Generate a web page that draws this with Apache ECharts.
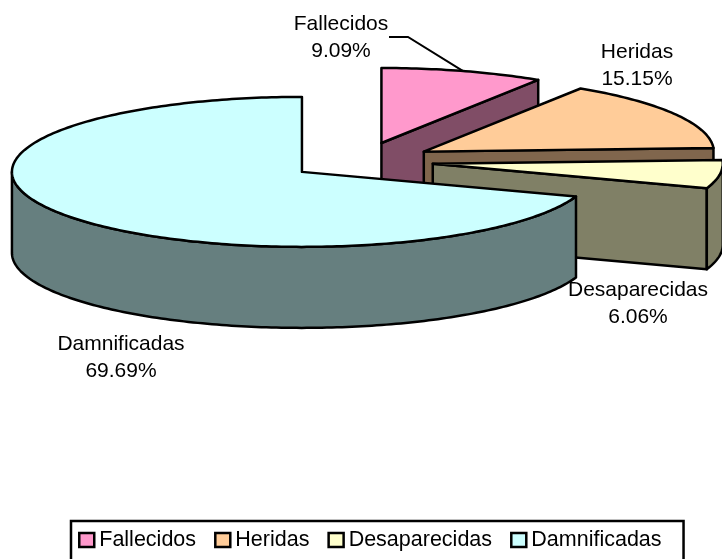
<!DOCTYPE html>
<html>
<head>
<meta charset="utf-8">
<title>Pie</title>
<script src="https://cdn.jsdelivr.net/npm/echarts@6/dist/echarts.min.js"></script>
<style>
html, body { margin: 0; padding: 0; background: #fff; }
#chart { width: 722px; height: 559px; }
</style>
</head>
<body>
<div id="chart"></div>
<script>
var categories = ['Fallecidos', 'Heridas', 'Desaparecidas', 'Damnificadas'];
var percents = [9.09, 15.15, 6.06, 69.69];
var topColors = ['#FF99CC', '#FFCC99', '#FFFFCC', '#CCFFFF'];
var sideColors = ['#804D66', '#80664D', '#808066', '#667F7F'];
// where each label sits, centre of the text block
var labelX = [341, 637, 638, 121];
var labelY = [38, 66, 304, 358];

// pie geometry
var cx = 361, cy = 161, rx = 290, ry = 75, depth = 81, explode = 0.25;
var total = percents.reduce(function (a, b) { return a + b; }, 0);

function rad(t) { return t * Math.PI / 180; }

function arc(c, from, to, dy) {
    var pts = [], n = Math.max(1, Math.ceil(Math.abs(to - from)));
    for (var i = 0; i <= n; i++) {
        var t = rad(from + (to - from) * i / n);
        pts.push([c[0] + rx * Math.sin(t), c[1] - ry * Math.cos(t) + dy]);
    }
    return pts;
}

function poly(points, fill, z) {
    return {
        type: 'polygon',
        shape: { points: points },
        style: { fill: fill, stroke: '#000', lineWidth: 2.5, lineJoin: 'round' },
        z2: z
    };
}

function sliceItem(idx) {
    var start = 0;
    for (var i = 0; i < idx; i++) start += percents[i];
    var a0 = start / total * 360;
    var a1 = (start + percents[idx]) / total * 360;
    var mid = rad((a0 + a1) / 2);
    var c = [cx + explode * rx * Math.sin(mid), cy - explode * ry * Math.cos(mid)];
    var children = [];

    // cut face at the end angle, seen only when it turns to the front
    if (Math.sin(rad(a1)) > 0.001) {
        var e = arc(c, a1, a1, 0)[0];
        children.push(poly([c, e, [e[0], e[1] + depth], [c[0], c[1] + depth]], sideColors[idx], 1));
    }
    // outer wall, front half of the rim only
    var w0 = Math.max(a0, 90), w1 = Math.min(a1, 270);
    if (w1 > w0) {
        children.push(poly(arc(c, w0, w1, 0).concat(arc(c, w1, w0, depth)), sideColors[idx], 2));
    }
    children.push(poly([c].concat(arc(c, a0, a1, 0)), topColors[idx], 3));

    // leader line for the first slice
    if (idx === 0) {
        var rim = [c[0] + rx * Math.sin(mid), c[1] - ry * Math.cos(mid)];
        children.push({
            type: 'polyline',
            shape: { points: [[389, 37], [408, 37], rim] },
            style: { fill: null, stroke: '#000', lineWidth: 2 },
            z2: 4
        });
    }
    children.push({
        type: 'text',
        style: {
            text: categories[idx] + '\n' + percents[idx].toFixed(2) + '%',
            x: labelX[idx], y: labelY[idx],
            align: 'center', verticalAlign: 'middle',
            font: '21px "Liberation Sans", Arial, sans-serif',
            lineHeight: 27, fill: '#000'
        },
        z2: 5
    });
    return { type: 'group', children: children };
}

var chart = echarts.init(document.getElementById('chart'), null, { renderer: 'canvas' });
chart.setOption({
    animation: false,
    tooltip: { show: false },
    legend: {
        left: 71, top: 521,
        data: categories,
        icon: 'rect',
        itemWidth: 15, itemHeight: 14, itemGap: 18,
        padding: [8, 22, 26, 7],
        backgroundColor: '#fff',
        borderColor: '#000', borderWidth: 2.5,
        borderRadius: 0,
        selectedMode: false,
        itemStyle: { borderColor: '#000', borderWidth: 2.5 },
        textStyle: { color: '#000', fontSize: 21.5, fontFamily: '"Liberation Sans", Arial, sans-serif' }
    },
    series: categories.map(function (name, idx) {
        return {
            type: 'custom',
            name: name,
            coordinateSystem: 'none',
            silent: true,
            itemStyle: { color: topColors[idx] },
            data: [percents[idx]],
            z: idx + 1,
            renderItem: function () { return sliceItem(idx); }
        };
    })
});
</script>
</body>
</html>
